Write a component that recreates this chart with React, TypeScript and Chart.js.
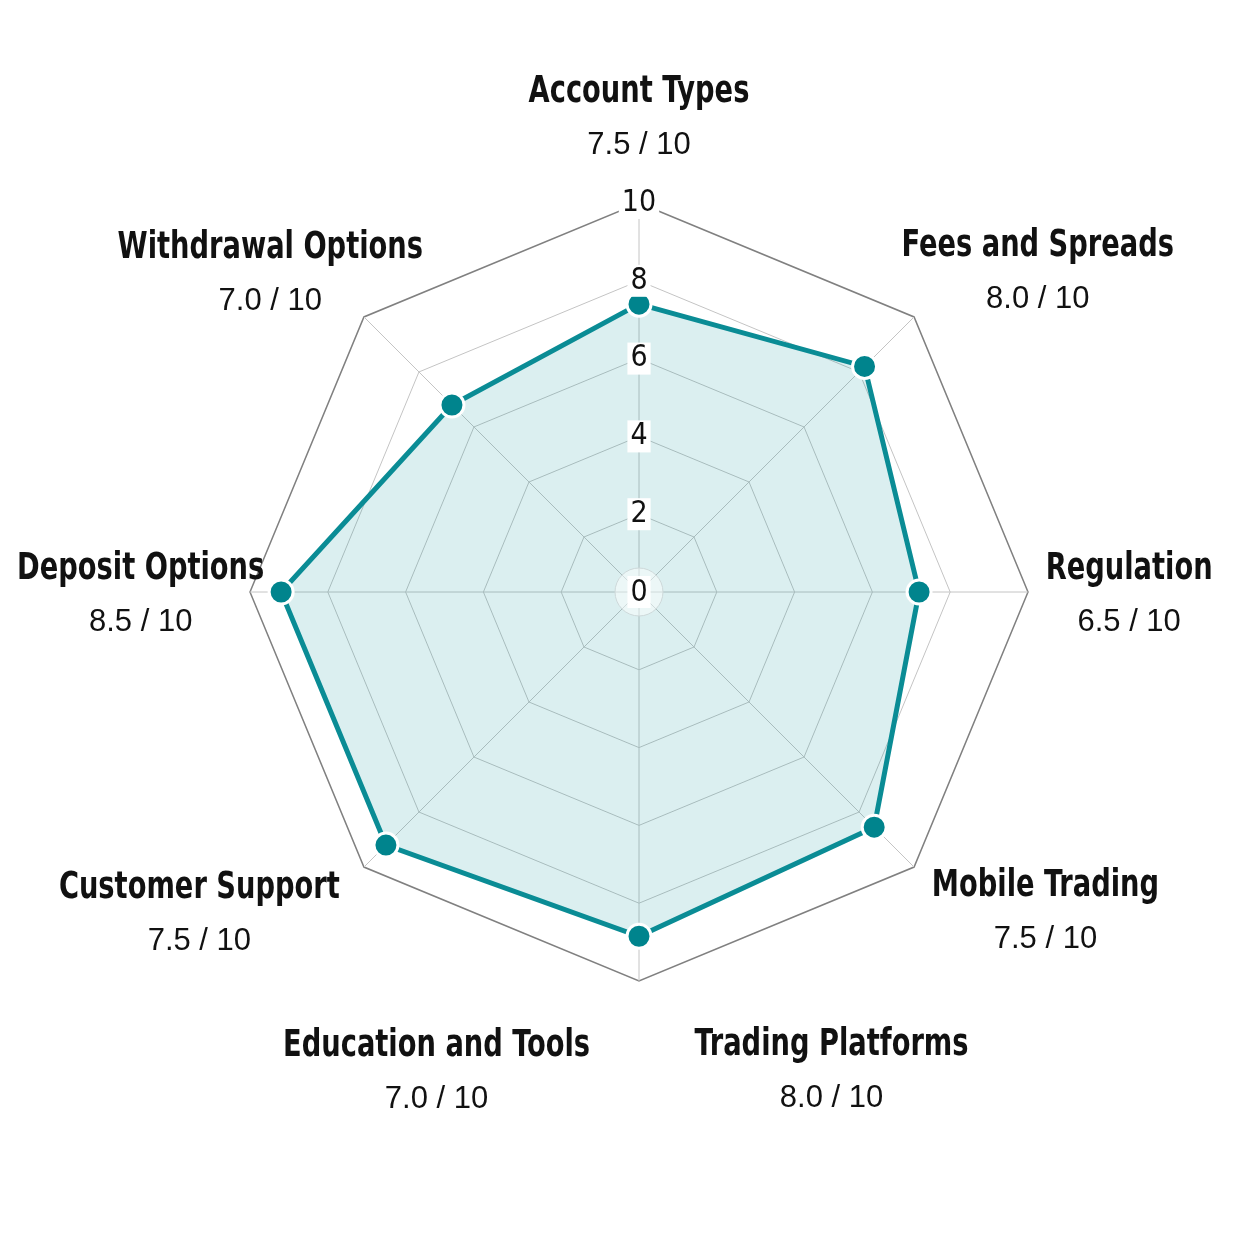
import React, { useEffect, useRef } from "react";
import { Chart, registerables } from "chart.js";

Chart.register(...registerables);

// ---- data ----
const categories = [
  "Account Types",
  "Fees and Spreads",
  "Regulation",
  "Mobile Trading",
  "Trading Platforms",
  "Education and Tools",
  "Customer Support",
  "Deposit Options",
  "Withdrawal Options",
];
const scores = [7.5, 8.0, 6.5, 7.5, 8.0, 7.0, 7.5, 8.5, 7.0];
const maxScore = 10;

// the drawn polygon has eight spokes
const spokeLabels = [
  "Account Types",
  "Fees and Spreads",
  "Regulation",
  "Mobile Trading",
  "Trading Platforms",
  "Customer Support",
  "Deposit Options",
  "Withdrawal Options",
];
const plottedValues = [7.4, 8.2, 7.2, 8.55, 8.85, 9.2, 9.2, 6.8];
const tickStep = 2;

// ---- label layout (degrees clockwise from top, distance in radii) ----
const labelAngles = [0, 51, 90, 128, 158, 203, 234, 270, 311];
const labelDistances = [1.224, 1.319, 1.26, 1.326, 1.321, 1.332, 1.397, 1.281, 1.256];

const CONDENSED = '"Liberation Sans Narrow", "Arial Narrow", "DejaVu Sans Condensed", sans-serif';
const REGULAR = '"Liberation Sans", Arial, sans-serif';
const TEAL = "#0a8c95";
const TEAL_DARK = "#00848d";

export default function App() {
  const ref = useRef<HTMLCanvasElement>(null);

  useEffect(() => {
    if (!ref.current) return;

    const labelPlugin = {
      id: "scoreLabels",
      afterDraw(chart: any) {
        const s = chart.scales.r;
        const ctx = chart.ctx as CanvasRenderingContext2D;
        const cx = s.xCenter;
        const cy = s.yCenter;
        const R = s.drawingArea;
        ctx.save();
        // zero marker at the centre
        ctx.beginPath();
        ctx.arc(cx, cy, 24, 0, Math.PI * 2);
        ctx.fillStyle = "rgba(255,255,255,0.45)";
        ctx.fill();
        ctx.strokeStyle = "#cdd8d9";
        ctx.lineWidth = 1;
        ctx.stroke();
        ctx.font = `30px ${CONDENSED}`;
        const zeroText = String(s.min);
        const w = ctx.measureText(zeroText).width;
        ctx.fillStyle = "#ffffff";
        ctx.fillRect(cx - w / 2 - 3, cy - 16, w + 6, 32);
        ctx.fillStyle = "#111111";
        ctx.textAlign = "center";
        ctx.textBaseline = "middle";
        ctx.fillText(zeroText, cx, cy + 1);

        categories.forEach((name, i) => {
          const a = (labelAngles[i] * Math.PI) / 180;
          const d = labelDistances[i] * R;
          const x = cx + d * Math.sin(a);
          const y = cy - d * Math.cos(a);
          ctx.fillStyle = "#111111";
          // condensed bold category name
          ctx.save();
          ctx.translate(x, y - 23);
          ctx.scale(0.82, 1);
          ctx.font = `bold 37px ${CONDENSED}`;
          ctx.fillText(name, 0, 0);
          ctx.restore();
          ctx.font = `31px ${REGULAR}`;
          ctx.fillText(`${scores[i].toFixed(1)} / ${maxScore}`, x, y + 30);
        });
        ctx.restore();
      },
    };

    const chart = new Chart(ref.current, {
      type: "radar",
      data: {
        labels: spokeLabels,
        datasets: [
          {
            data: plottedValues,
            borderColor: TEAL,
            backgroundColor: "rgba(0,140,150,0.14)",
            borderWidth: 5,
            fill: true,
            tension: 0,
            pointRadius: 12,
            pointBackgroundColor: TEAL_DARK,
            pointBorderColor: "#ffffff",
            pointBorderWidth: 3,
          },
        ],
      },
      options: {
        responsive: false,
        animation: false,
        layout: { padding: { left: 234, right: 210, top: 187, bottom: 257 } },
        plugins: { legend: { display: false }, tooltip: { enabled: false } },
        scales: {
          r: {
            min: 0,
            max: maxScore,
            ticks: {
              stepSize: tickStep,
              z: 1,
              color: "#111111",
              font: { family: CONDENSED, size: 30, lineHeight: 1 },
              showLabelBackdrop: true,
              backdropColor: "#ffffff",
              backdropPadding: { x: 3, y: 1 },
            },
            grid: {
              color: (c: any) => (c.index === 5 ? "#808080" : "#c4c4c4"),
              lineWidth: (c: any) => (c.index === 5 ? 1.5 : 1),
            },
            angleLines: { color: "#c4c4c4", lineWidth: 1 },
            pointLabels: { display: false },
          },
        },
      },
      plugins: [labelPlugin],
    });

    return () => chart.destroy();
  }, []);

  return (
    <div style={{ position: "absolute", left: 0, top: 0, width: 1254, height: 1254, background: "#ffffff" }}>
      <canvas ref={ref} width={1254} height={1254} />
    </div>
  );
}
